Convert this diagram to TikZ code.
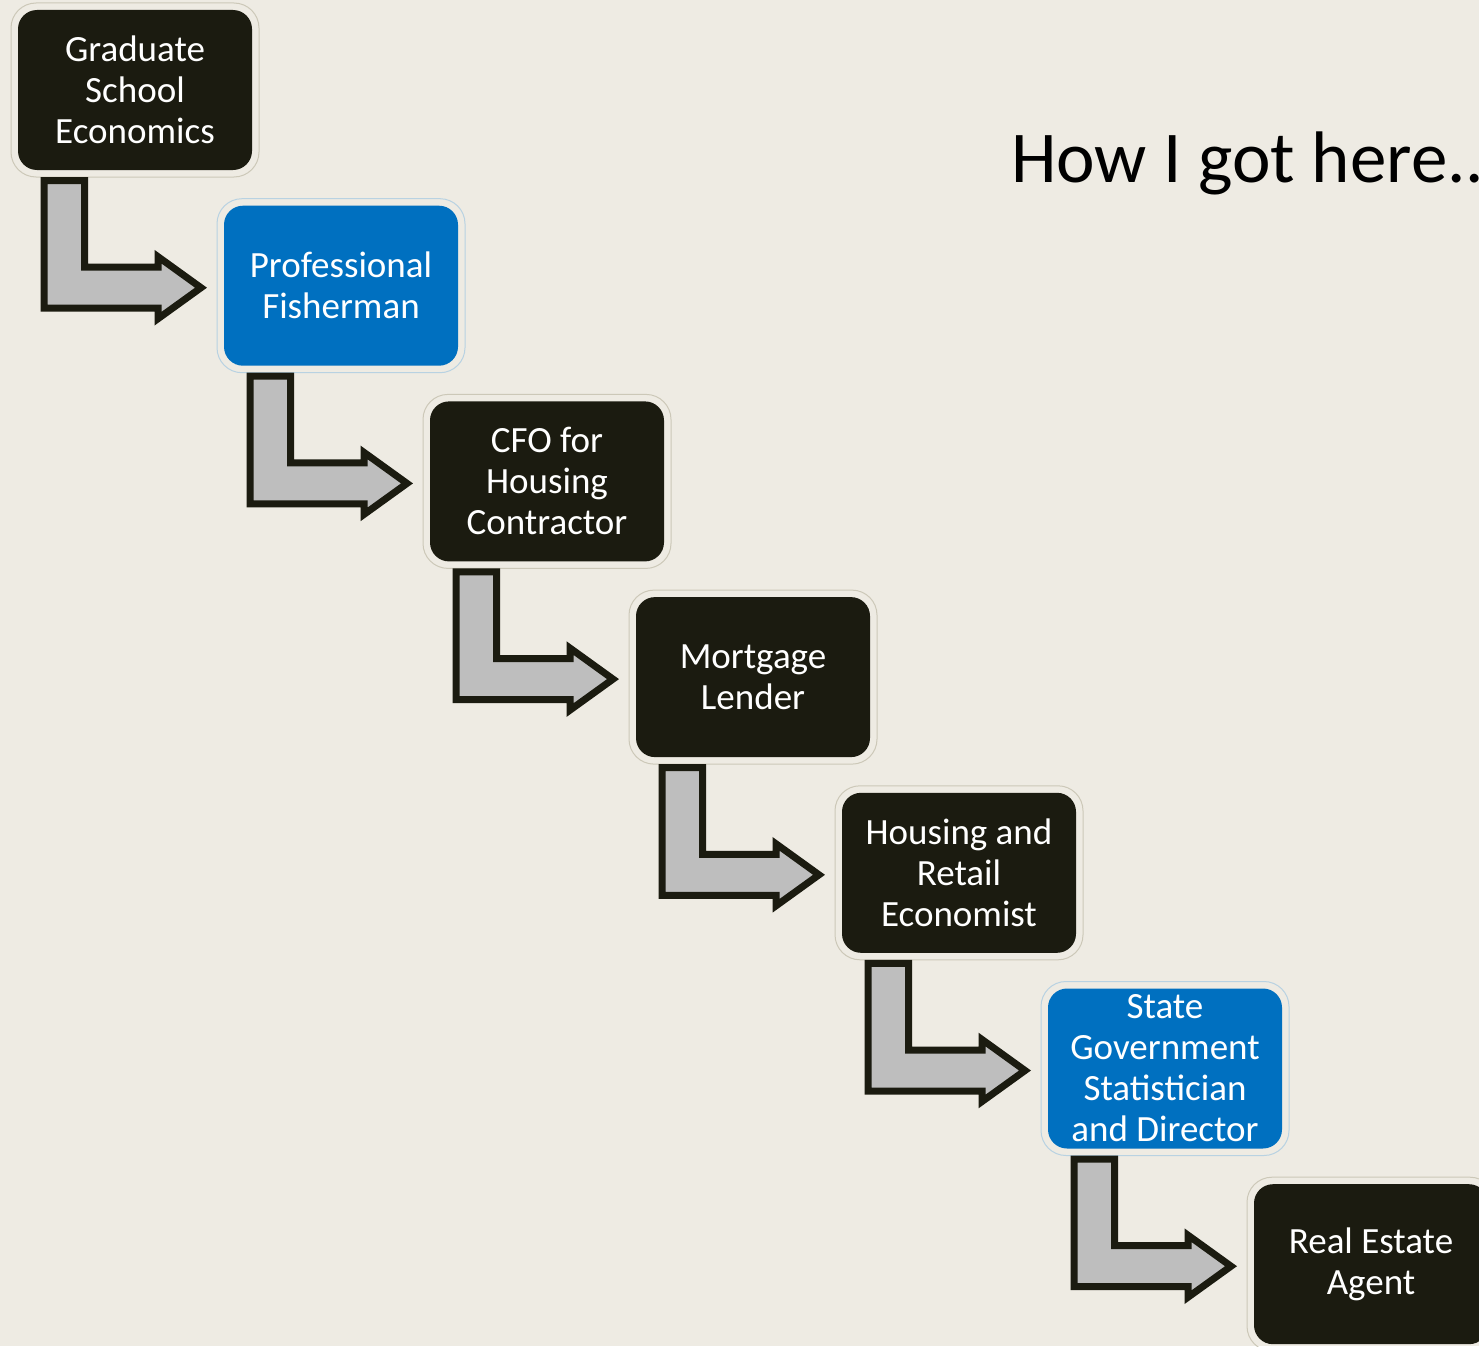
\documentclass[tikz,border=0pt]{standalone}
\usepackage{fontspec}
\setmainfont{Carlito}
\usetikzlibrary{positioning,calc}
\definecolor{slidebg}{HTML}{EEEBE3}
\definecolor{boxdark}{HTML}{1B1B10}
\definecolor{boxblue}{HTML}{0070C0}
\definecolor{arrowgray}{HTML}{BEBEBE}
\definecolor{ringdark}{HTML}{CCC8B8}
\definecolor{ringblue}{HTML}{B8D2E2}
\newcommand{\jobring}[2]{\draw[#2,line width=1pt,rounded corners=25pt] ($(#1.south west)+(-7pt,-7pt)$) rectangle ($(#1.north east)+(7pt,7pt)$);}
\newcommand{\careerarrow}[2]{%
  \draw[bentarrow] let \p1=(#1.south west), \p2=(#2.west) in
    (\x1+26pt,\y1-10.5pt) -- (\x1+66.5pt,\y1-10.5pt) -- (\x1+66.5pt,\y2+18.5pt) -- (\x2-66pt,\y2+18.5pt)
    -- (\x2-66pt,\y2+29pt) -- (\x2-23pt,\y2-2pt) -- (\x2-66pt,\y2-33pt) -- (\x2-66pt,\y2-22.5pt)
    -- (\x1+26pt,\y2-22.5pt) -- cycle;}

\begin{document}
\begin{tikzpicture}[x=1pt,y=-1pt,
    job/.style={rounded corners=19pt,minimum width=234pt,minimum height=160pt,inner sep=0pt,outer sep=0pt,
      text=white,align=center,font=\fontsize{37}{41}\selectfont},
    darkjob/.style={job,fill=boxdark},
    bluejob/.style={job,fill=boxblue},
    bentarrow/.style={draw=boxdark,fill=arrowgray,line width=7pt,miter limit=10}]
    \clip (0,0) rectangle (1479,1346);
    \fill[slidebg] (0,0) rectangle (1479,1346);
    \node[darkjob] (grad) at (135,90) {Graduate\\School\\Economics};
    \node[bluejob,below right=35.7pt and -28pt of grad] (fish) {Professional\\Fisherman};
    \node[darkjob,below right=35.7pt and -28pt of fish] (cfo) {CFO for\\Housing\\Contractor};
    \node[darkjob,below right=35.7pt and -28pt of cfo] (lender) {Mortgage\\Lender};
    \node[darkjob,below right=35.7pt and -28pt of lender] (econ) {Housing and\\Retail\\Economist};
    \node[bluejob,below right=35.7pt and -28pt of econ] (state) {State\\Government\\Statistician\\and Director};
    \node[darkjob,below right=35.7pt and -28pt of state] (agent) {Real Estate\\Agent};
    \jobring{grad}{ringdark}\jobring{fish}{ringblue}\jobring{cfo}{ringdark}\jobring{lender}{ringdark}
    \jobring{econ}{ringdark}\jobring{state}{ringblue}\jobring{agent}{ringdark}
    \careerarrow{grad}{fish}\careerarrow{fish}{cfo}\careerarrow{cfo}{lender}
    \careerarrow{lender}{econ}\careerarrow{econ}{state}\careerarrow{state}{agent}
    \node[anchor=base west,inner sep=0pt,font=\fontsize{73}{88}\selectfont] (title) at (1011,182) {How I got here...};
\end{tikzpicture}
\end{document}
